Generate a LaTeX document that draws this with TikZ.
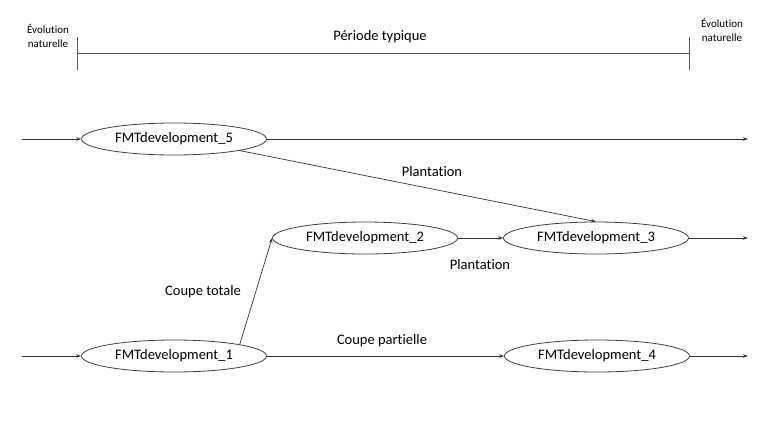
\documentclass[tikz,border=0pt]{standalone}
\usepackage{fontspec}
\setmainfont{Carlito}[Ligatures={NoCommon}]
\usetikzlibrary{shapes.geometric,arrows.meta}
\begin{document}
\begin{tikzpicture}[x=1pt,y=-1pt,
  devnode/.style={draw=black!75,line width=0.8pt,ellipse,minimum width=185pt,minimum height=32pt,inner sep=0pt,font=\fontsize{14.5}{16}\selectfont},
  conn/.style={draw=black!80,line width=0.7pt,-{Stealth[length=5pt,width=3.5pt]}},
  lbl/.style={font=\fontsize{14.5}{16}\selectfont,inner sep=0pt},
  small/.style={font=\fontsize{11}{14}\selectfont,align=center,inner sep=0pt},
  tl/.style={draw=black!65,line width=0.9pt}]
\useasboundingbox (0,0) rectangle (760,429);
% timeline
\coordinate (tla) at (77,53);
\coordinate (tlb) at (689,53);
\coordinate (tlat) at (77,37);
\coordinate (tlab) at (77,70);
\coordinate (tlbt) at (689,37);
\coordinate (tlbb) at (689,70);
\draw[tl] (tla) -- (tlb);
\draw[tl] (tlat) -- (tlab);
\draw[tl] (tlbt) -- (tlbb);
\node[lbl] (per) at (380,37) {Période typique};
\node[small] (evl) at (48,36) {Évolution\\naturelle};
\node[small] (evr) at (722,30) {Évolution\\naturelle};
% nodes
\node[devnode] (e5) at (174,139) {FMTdevelopment\_5};
\node[devnode] (e2) at (365,238) {FMTdevelopment\_2};
\node[devnode] (e3) at (596,238) {FMTdevelopment\_3};
\node[devnode] (e1) at (174,356) {FMTdevelopment\_1};
\node[devnode] (e4) at (597,356) {FMTdevelopment\_4};
% free ends
\coordinate (in5) at (22,139);
\coordinate (in1) at (22,356);
\coordinate (out5) at (748,139);
\coordinate (out3) at (748,238);
\coordinate (out4) at (748,356);
% connectors
\draw[conn] (in5) -- (e5.west);
\draw[conn] (in1) -- (e1.west);
\draw[conn] (e5.east) -- (out5);
\draw[conn] (e5.-10) -- (e3.north);
\draw[conn] (e1.10) -- (e2.west);
\draw[conn] (e2.east) -- (e3.west);
\draw[conn] (e3.east) -- (out3);
\draw[conn] (e1.east) -- (e4.west);
\draw[conn] (e4.east) -- (out4);
% labels
\node[lbl] (l1) at (432,172) {Plantation};
\node[lbl] (l2) at (480,265) {Plantation};
\node[lbl] (l3) at (203,292) {Coupe totale};
\node[lbl] (l4) at (382,341) {Coupe partielle};
\end{tikzpicture}
\end{document}
